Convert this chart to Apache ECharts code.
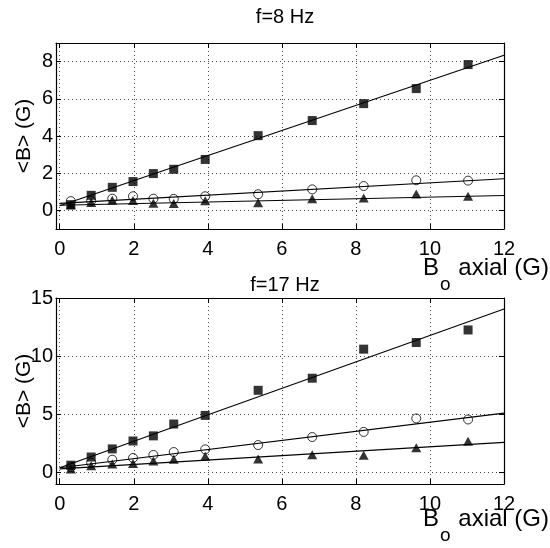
<!DOCTYPE html>
<html>
<head>
<meta charset="utf-8">
<script src="https://cdn.jsdelivr.net/npm/echarts@6/dist/echarts.min.js"></script>
<style>html,body{margin:0;padding:0;background:#fff}#c{width:550px;height:548px}</style>
</head>
<body>
<div id="c"></div>
<script>
// ---- data ----
const boAxial = [0.3, 0.85, 1.42, 1.98, 2.53, 3.08, 3.93, 5.36, 6.82, 8.21, 9.63, 11.03];

const f8Squares   = [0.31, 0.81, 1.24, 1.55, 1.98, 2.21, 2.74, 4.02, 4.83, 5.74, 6.55, 7.84];
const f8Circles   = [0.5, 0.52, 0.63, 0.76, 0.63, 0.62, 0.76, 0.87, 1.13, 1.31, 1.62, 1.6];
const f8Triangles = [0.29, 0.42, 0.55, 0.53, 0.39, 0.37, 0.52, 0.41, 0.63, 0.67, 0.88, 0.76];

const f17Squares   = [0.62, 1.32, 2.02, 2.7, 3.14, 4.16, 4.9, 7.06, 8.1, 10.6, 11.17, 12.25];
const f17Circles   = [0.45, 0.83, 1.09, 1.24, 1.5, 1.75, 1.98, 2.35, 3.04, 3.48, 4.64, 4.55];
const f17Triangles = [0.3, 0.57, 0.72, 0.77, 0.97, 1.12, 1.38, 1.15, 1.52, 1.47, 2.12, 2.68];

// fitted lines: values at x = fitX[0] and fitX[1]
const fitX = [0, 12];
const f8FitSquares = [0.25, 8.34];
const f8FitCircles = [0.38, 1.7];
const f8FitTriangles = [0.28, 0.8];
const f17FitSquares = [0.4, 14.05];
const f17FitCircles = [0.4, 5.1];
const f17FitTriangles = [0.3, 2.58];

const xTicks = [0, 2, 4, 6, 8, 10, 12];
const f8YTicks = [0, 2, 4, 6, 8];
const f17YTicks = [0, 5, 10, 15];
const titles = ['f=8 Hz', 'f=17 Hz'];
const yName = '<B> (G)';
const xNameMain = 'B';
const xNameSub = 'o';
const xNameRest = ' axial (G)';

// ---- build ----
const FONT = '"Liberation Sans", Arial, Helvetica, sans-serif';
const pair = (xs, ys) => xs.map((x, i) => [x, ys[i]]);

const grids = [
  { left: 56, top: 43, width: 448, height: 186, containLabel: false, outerBoundsMode: 'none' },
  { left: 56, top: 298, width: 448, height: 186, containLabel: false, outerBoundsMode: 'none' }
];
const yRanges = [[-1, 9], [-1, 15]];
const yTickSets = [f8YTicks, f17YTicks];

const xAxes = [], yAxes = [];
grids.forEach((g, i) => {
  const common = {
    type: 'value', gridIndex: i, min: -0.1, max: 12,
    axisLine: { show: true, onZero: false, lineStyle: { color: '#000', width: 1.2 } },
    axisTick: { show: true, inside: true, length: 5, customValues: xTicks, lineStyle: { color: '#000' } }
  };
  xAxes.push(Object.assign({}, common, {
    position: 'bottom',
    axisLabel: { customValues: xTicks, color: '#000', fontSize: 20, fontFamily: FONT, margin: 10 },
    splitLine: { show: true, lineStyle: { color: '#444', type: [1, 3], width: 1 } }
  }));
  xAxes.push(Object.assign({}, common, {
    position: 'top', axisLabel: { show: false }, splitLine: { show: false }
  }));
  const yc = {
    type: 'value', gridIndex: i, min: yRanges[i][0], max: yRanges[i][1],
    axisLine: { show: true, onZero: false, lineStyle: { color: '#000', width: 1.2 } },
    axisTick: { show: true, inside: true, length: 5, customValues: yTickSets[i], lineStyle: { color: '#000' } }
  };
  yAxes.push(Object.assign({}, yc, {
    position: 'left',
    axisLabel: { customValues: yTickSets[i], color: '#000', fontSize: 20, fontFamily: FONT, margin: 3 },
    splitLine: { show: true, lineStyle: { color: '#444', type: [1, 3], width: 1 } },
    name: yName, nameLocation: 'middle', nameGap: 21, nameMoveOverlap: false,
    nameTextStyle: { color: '#000', fontSize: 21, fontFamily: FONT }
  }));
  yAxes.push(Object.assign({}, yc, {
    position: 'right', axisLabel: { show: false }, splitLine: { show: false }
  }));
});

function fitSeries(i, ys) {
  return {
    type: 'line', xAxisIndex: i * 2, yAxisIndex: i * 2, data: pair(fitX, ys),
    symbol: 'none', lineStyle: { color: '#000', width: 1.1 }, silent: true, z: 2
  };
}
function markerSeries(i, ys, kind) {
  const s = { type: 'scatter', xAxisIndex: i * 2, yAxisIndex: i * 2, data: pair(boAxial, ys), z: 3 };
  if (kind === 'sq') {
    s.symbol = 'rect'; s.symbolSize = 9; s.itemStyle = { color: '#000' };
  } else if (kind === 'ci') {
    s.symbol = 'circle'; s.symbolSize = 9;
    s.itemStyle = { color: 'rgba(0,0,0,0)', borderColor: '#000', borderWidth: 1 };
  } else {
    s.symbol = 'triangle'; s.symbolSize = [10, 9]; s.itemStyle = { color: '#000' };
  }
  return s;
}

const series = [
  fitSeries(0, f8FitSquares), fitSeries(0, f8FitCircles), fitSeries(0, f8FitTriangles),
  markerSeries(0, f8Squares, 'sq'), markerSeries(0, f8Circles, 'ci'), markerSeries(0, f8Triangles, 'tr'),
  fitSeries(1, f17FitSquares), fitSeries(1, f17FitCircles), fitSeries(1, f17FitTriangles),
  markerSeries(1, f17Squares, 'sq'), markerSeries(1, f17Circles, 'ci'), markerSeries(1, f17Triangles, 'tr')
];

function xNameGraphic(top) {
  return {
    type: 'text', right: 1, top: top, z: 10,
    style: {
      text: '{b|' + xNameMain + '}{s|' + xNameSub + '}{b|' + xNameRest + '}',
      fill: '#000',
      rich: {
        b: { fontSize: 24, fontFamily: FONT, fill: '#000', lineHeight: 24, verticalAlign: 'top' },
        s: { fontSize: 19, fontFamily: FONT, fill: '#000', lineHeight: 19, padding: [19, 1, 0, 1], verticalAlign: 'top' }
      }
    }
  };
}

const chart = echarts.init(document.getElementById('c'), null, { renderer: 'canvas' });
chart.setOption({
  animation: false,
  backgroundColor: '#fff',
  title: [
    { text: titles[0], left: 280, top: 2, textAlign: 'center',
      textStyle: { fontSize: 20, fontWeight: 'normal', color: '#000', fontFamily: FONT } },
    { text: titles[1], left: 280, top: 270, textAlign: 'center',
      textStyle: { fontSize: 20, fontWeight: 'normal', color: '#000', fontFamily: FONT } }
  ],
  grid: grids,
  xAxis: xAxes,
  yAxis: yAxes,
  series: series,
  graphic: [xNameGraphic(256), xNameGraphic(507)]
});
</script>
</body>
</html>
